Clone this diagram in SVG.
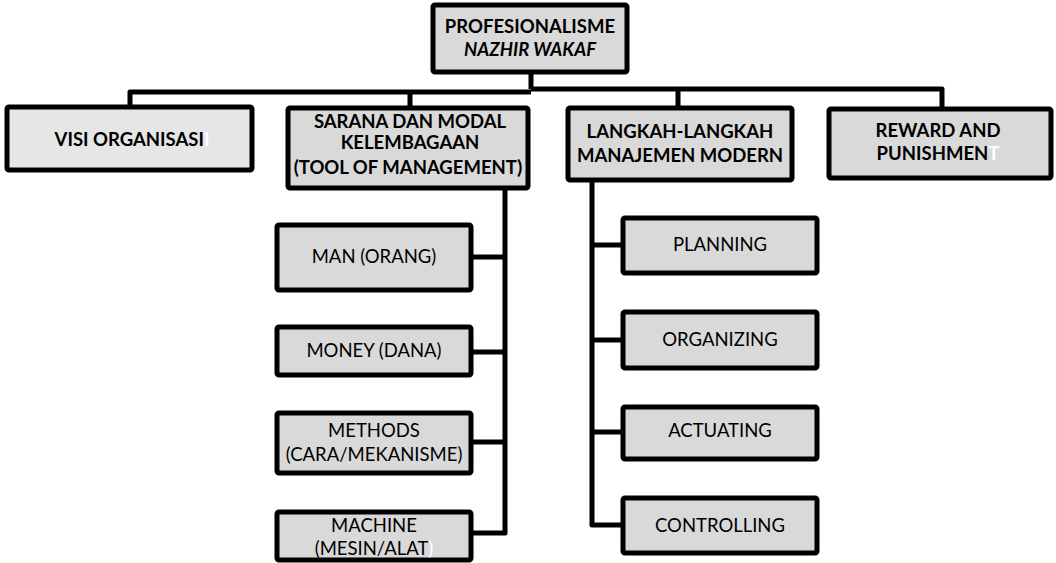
<svg xmlns="http://www.w3.org/2000/svg" width="1056" height="563" viewBox="0 0 1056 563">
  <style>
    .box { fill: #d9d9d9; stroke: #000; stroke-width: 5; }
    .light { fill: #e6e6e6; }
    .wire { fill: none; stroke: #000; stroke-width: 5; stroke-linejoin: round; }
    text { font-family: Lato, "Open Sans", "Liberation Sans", sans-serif; fill: #000; text-anchor: middle; }
    .b { font-weight: bold; font-size: 18.5px; }
    .r { font-size: 18.5px; }
    .w { fill: #fff; }
  </style>
  <rect width="1056" height="563" fill="#fff"/>

  <!-- connectors -->
  <g id="connectors">
    <path class="wire" d="M531 72 V89 M130 107 V92 H531 M531 89 H942 V109"/>
    <path class="wire" d="M410 92 V108 M678 89 V108"/>
    <!-- tools of management branch -->
    <path class="wire" d="M505 188 V533 H471 M471 257 H505 M471 352 H505 M471 442 H505"/>
    <!-- management steps branch -->
    <path class="wire" d="M592 180 V525 H623 M592 245 H623 M592 340 H623 M592 432 H623"/>
  </g>

  <g id="root">
    <rect class="box" x="433" y="5" width="194" height="67" rx="2"/>
    <text class="b" x="530" y="33">PROFESIONALISME</text>
    <text class="b" x="530" y="56" font-style="italic">NAZHIR WAKAF</text>
  </g>

  <g id="visi">
    <rect class="box light" x="7" y="107" width="245" height="63" rx="2"/>
    <text class="b" x="132" y="146">VISI ORGANISASI<tspan class="w">I</tspan></text>
  </g>

  <g id="sarana">
    <rect class="box" x="288" y="108" width="240" height="80" rx="2"/>
    <text class="b" x="410" y="128" font-size="14.3">SARANA DAN MODAL</text>
    <text class="b" x="410" y="149" font-size="14.3">KELEMBAGAAN</text>
    <text class="b" x="408" y="174" font-size="16.5">(TOOL OF MANAGEMEN<tspan>T</tspan><tspan font-size="19.5">)</tspan></text>
  </g>

  <g id="langkah">
    <rect class="box" x="568" y="108" width="224" height="72" rx="2"/>
    <text class="b" x="680" y="138">LANGKAH-LANGKAH</text>
    <text class="b" x="680" y="162">MANAJEMEN MODERN</text>
  </g>

  <g id="reward">
    <rect class="box" x="829" y="109" width="222" height="69" rx="2"/>
    <text class="b" x="938" y="137">REWARD AND</text>
    <text class="b" x="938" y="160">PUNISHMEN<tspan class="w">T</tspan></text>
  </g>

  <g id="man">
    <rect class="box" x="277" y="225" width="194" height="65" rx="2"/>
    <text class="r" x="374" y="263">MAN (ORANG)</text>
  </g>
  <g id="money">
    <rect class="box" x="277" y="327" width="194" height="48" rx="2"/>
    <text class="r" x="374" y="357">MONEY (DANA)</text>
  </g>
  <g id="methods">
    <rect class="box" x="277" y="413" width="194" height="60" rx="2"/>
    <text class="r" x="374" y="437">METHODS</text>
    <text class="r" x="374" y="461">(CARA/MEKANISME)</text>
  </g>
  <g id="machine">
    <rect class="box" x="277" y="512" width="194" height="48" rx="2"/>
    <text class="r" x="374" y="532">MACHINE</text>
    <text class="r" x="374" y="555">(MESIN/ALAT<tspan class="w">)</tspan></text>
  </g>

  <g id="planning">
    <rect class="box" x="623" y="218" width="194" height="55" rx="2"/>
    <text class="r" x="720" y="251">PLANNING</text>
  </g>
  <g id="organizing">
    <rect class="box" x="623" y="312" width="194" height="56" rx="2"/>
    <text class="r" x="720" y="346">ORGANIZING</text>
  </g>
  <g id="actuating">
    <rect class="box" x="623" y="407" width="194" height="52" rx="2"/>
    <text class="r" x="720" y="437">ACTUATING</text>
  </g>
  <g id="controlling">
    <rect class="box" x="623" y="498" width="194" height="55" rx="2"/>
    <text class="r" x="720" y="532">CONTROLLING</text>
  </g>
</svg>
